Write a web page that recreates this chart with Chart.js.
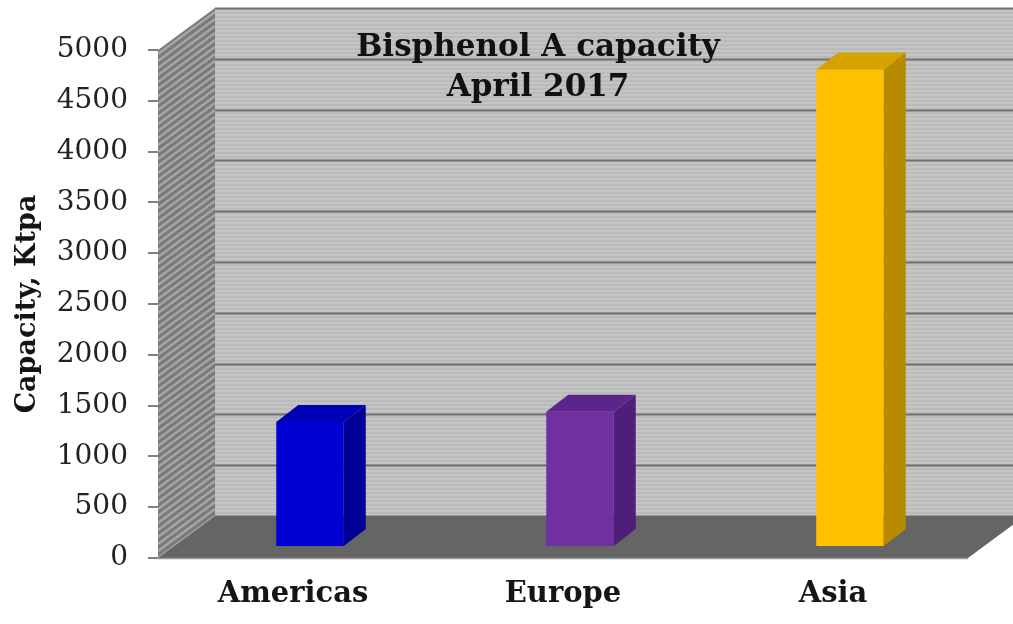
<!DOCTYPE html>
<html><head><meta charset="utf-8">
<script src="https://cdn.jsdelivr.net/npm/chart.js@4/dist/chart.umd.min.js"></script>
<style>html,body{margin:0;padding:0;background:#fff;overflow:hidden}</style>
</head><body>
<canvas id="c" width="1013" height="624"></canvas>
<script>
// ---- data ----
const categories = ['Americas', 'Europe', 'Asia'];
const capacity = [1230, 1330, 4700];
const yMin = 0, yMax = 5000, yStep = 500;
const titleLines = ['Bisphenol A capacity', 'April 2017'];
const yAxisTitle = 'Capacity, Ktpa';
const frontColors = ['#0000d2', '#7030a0', '#ffc000'];
const sideColors = ['#000096', '#4e1f78', '#b88a00'];
const topColors = ['#0000b4', '#5a268a', '#d6a200'];

// ---- geometry of the 3D look ----
const DEPTH = {dx: 57, dy: -42};   // back wall offset
const BAR_SHIFT = {dx: 17, dy: -11};
const BAR_DEPTH = {dx: 22, dy: -17};

const threeD = {
  id: 'threeD',
  beforeDatasetsDraw(chart) {
    const {ctx, chartArea: a, scales: {y}} = chart;
    const {dx, dy} = DEPTH;
    ctx.save();
    // back wall
    const bx0 = a.left + dx, bx1 = a.right + dx, by0 = a.top + dy, by1 = a.bottom + dy;
    ctx.fillStyle = '#c4c4c4';
    ctx.fillRect(bx0, by0, bx1 - bx0, by1 - by0);
    ctx.fillStyle = '#bababa';
    for (let yy = by0; yy < by1; yy += 4) ctx.fillRect(bx0, yy, bx1 - bx0, 2);
    // gridlines
    ctx.strokeStyle = '#6f6f6f';
    ctx.lineWidth = 2;
    for (let v = yMin; v <= yMax; v += yStep) {
      const py = Math.round(y.getPixelForValue(v) + dy) + 0.5;
      ctx.beginPath(); ctx.moveTo(bx0, py); ctx.lineTo(bx1, py); ctx.stroke();
    }
    // side wall
    ctx.beginPath();
    ctx.moveTo(a.left, a.top); ctx.lineTo(a.left + dx, a.top + dy);
    ctx.lineTo(a.left + dx, a.bottom + dy); ctx.lineTo(a.left, a.bottom); ctx.closePath();
    ctx.fillStyle = '#7a7a7a';
    ctx.fill();
    ctx.save();
    ctx.clip();
    ctx.strokeStyle = '#a6a6a6';
    ctx.lineWidth = 2.5;
    for (let yy = a.top - 10; yy < a.bottom + 60; yy += 7) {
      ctx.beginPath(); ctx.moveTo(a.left, yy); ctx.lineTo(a.left + dx, yy + dy); ctx.stroke();
    }
    ctx.restore();
    // floor
    ctx.beginPath();
    ctx.moveTo(a.left, a.bottom); ctx.lineTo(a.right, a.bottom);
    ctx.lineTo(a.right + dx, a.bottom + dy); ctx.lineTo(a.left + dx, a.bottom + dy); ctx.closePath();
    ctx.fillStyle = '#656565';
    ctx.fill();
    ctx.strokeStyle = '#9a9a9a';
    ctx.lineWidth = 1.5;
    ctx.beginPath(); ctx.moveTo(a.left, a.bottom + 0.5); ctx.lineTo(a.right, a.bottom + 0.5); ctx.stroke();
    ctx.restore();

    // chart title on the back wall
    ctx.save();
    ctx.fillStyle = '#111';
    ctx.font = 'bold 31px "DejaVu Serif"';
    ctx.textAlign = 'center';
    ctx.textBaseline = 'alphabetic';
    ctx.fillText(titleLines[0], 538, 56);
    ctx.fillText(titleLines[1], 538, 96);
    ctx.restore();

    // shift bars into depth
    ctx.save();
    ctx.translate(BAR_SHIFT.dx, BAR_SHIFT.dy);
  },
  afterDatasetsDraw(chart) {
    const {ctx} = chart;
    const meta = chart.getDatasetMeta(0);
    const {dx, dy} = BAR_DEPTH;
    meta.data.forEach((bar, i) => {
      const {x, y, base, width} = bar.getProps(['x', 'y', 'base', 'width'], true);
      const l = x - width / 2, r = x + width / 2;
      // side
      ctx.beginPath();
      ctx.moveTo(r, y); ctx.lineTo(r + dx, y + dy); ctx.lineTo(r + dx, base + dy); ctx.lineTo(r, base);
      ctx.closePath();
      ctx.fillStyle = sideColors[i]; ctx.fill();
      // top
      ctx.beginPath();
      ctx.moveTo(l, y); ctx.lineTo(r, y); ctx.lineTo(r + dx, y + dy); ctx.lineTo(l + dx, y + dy);
      ctx.closePath();
      ctx.fillStyle = topColors[i]; ctx.fill();
    });
    ctx.restore();
  }
};

new Chart(document.getElementById('c'), {
  type: 'bar',
  data: {
    labels: categories,
    datasets: [{
      data: capacity,
      backgroundColor: frontColors,
      borderWidth: 0,
      categoryPercentage: 0.25,
      barPercentage: 1,
      clip: false
    }]
  },
  options: {
    responsive: false,
    animation: false,
    devicePixelRatio: 1,
    layout: {padding: {top: 50, right: 45, left: 0, bottom: 0}},
    plugins: {legend: {display: false}, tooltip: {enabled: false}, title: {display: false}},
    scales: {
      x: {
        offset: true,
        grid: {display: false, drawTicks: false},
        border: {display: false},
        ticks: {font: {family: 'DejaVu Serif', size: 29, weight: 'bold'}, color: '#151515', padding: 19},
        afterFit(s) { s.height = 66; }
      },
      y: {
        min: yMin, max: yMax,
        grid: {drawOnChartArea: false, drawTicks: true, tickLength: 10, color: '#808080', lineWidth: 2},
        border: {display: false},
        ticks: {stepSize: yStep, font: {family: 'DejaVu Serif', size: 28}, color: '#222', padding: 20,
                callback: (v) => String(v)},
        title: {display: true, text: yAxisTitle, font: {family: 'DejaVu Serif', size: 27, weight: 'bold'}, color: '#151515', padding: {top: 12, bottom: 0}},
        afterFit(s) { s.width = 158; }
      }
    }
  },
  plugins: [threeD]
});
</script>
</body></html>
